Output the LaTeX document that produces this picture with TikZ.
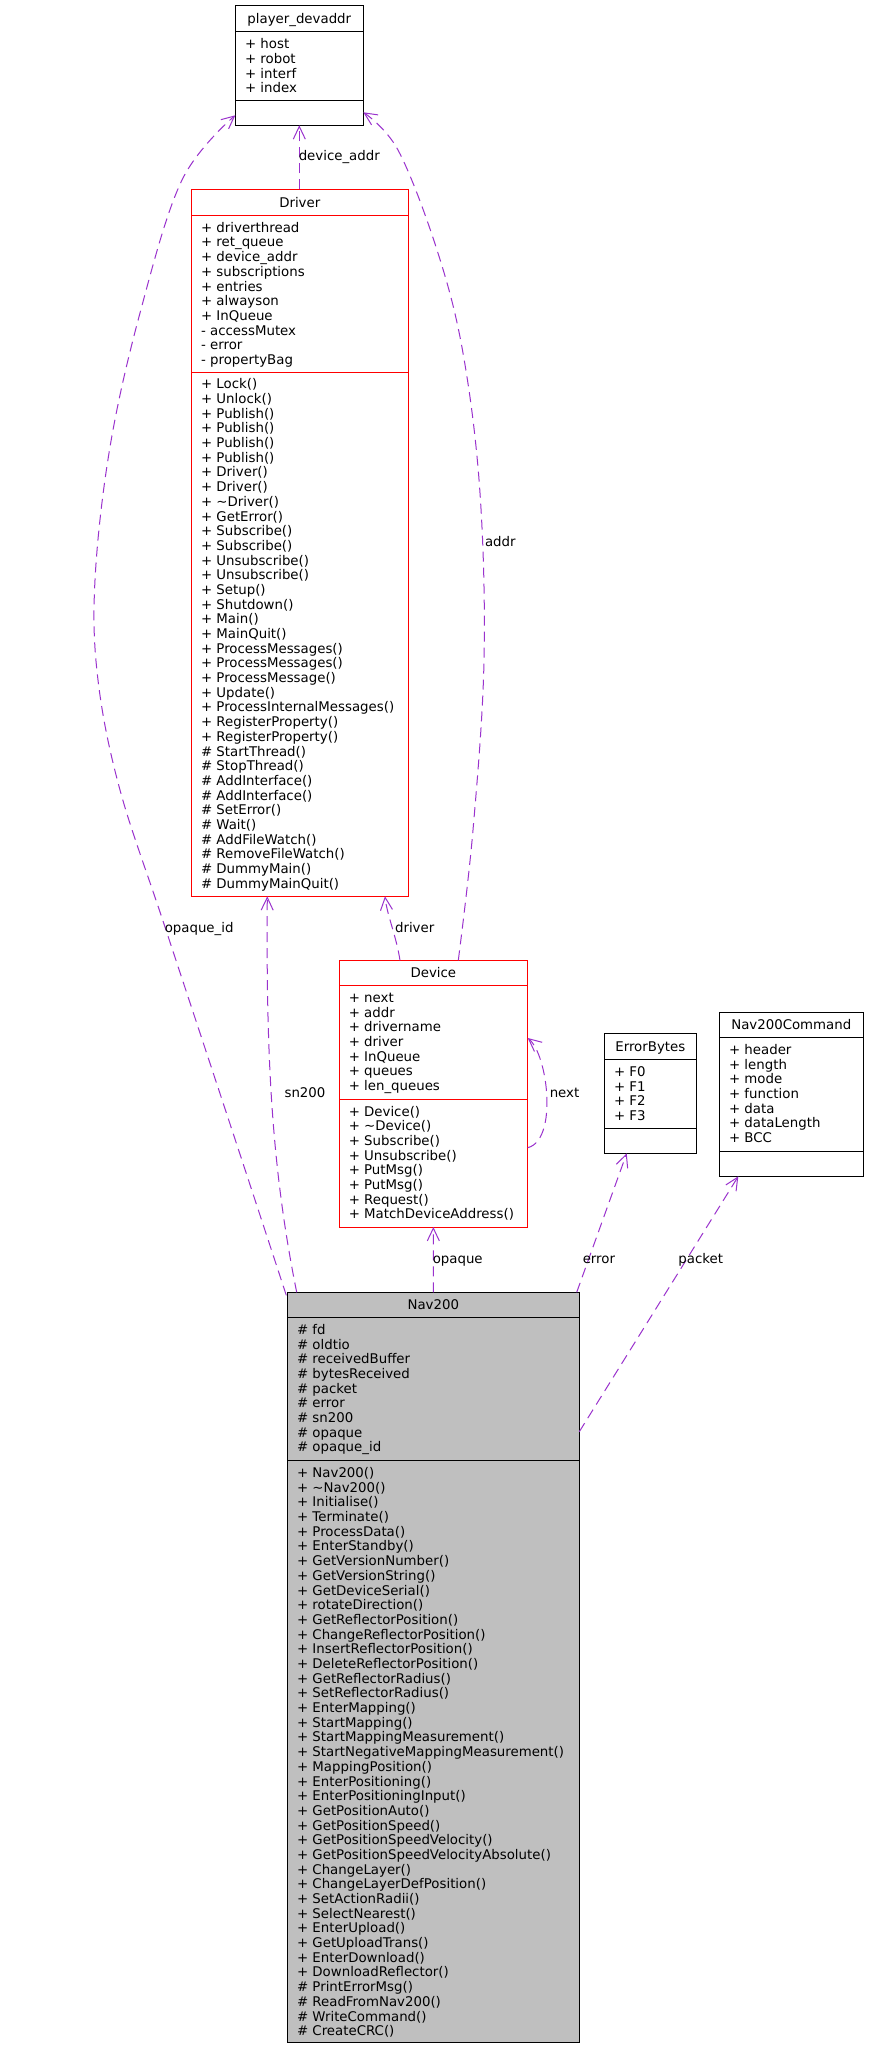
\documentclass[tikz,border=0pt]{standalone}
\usepackage{fontspec}
\setmainfont{DejaVu Sans}
\usetikzlibrary{arrows.meta,calc,fit}
\definecolor{depcol}{HTML}{9A32CD}
\definecolor{navfill}{HTML}{BFBFBF}
\tikzset{
  umlfont/.style={font=\fontsize{10pt}{12pt}\selectfont},
  txt/.style={umlfont, anchor=base west, inner sep=0pt},
  ttl/.style={umlfont, anchor=base, inner sep=0pt},
  lbl/.style={umlfont, anchor=base west, inner sep=0pt},
  cls/.style={inner sep=0pt, outer sep=0pt, line width=0.75pt, draw=black},
  redcls/.style={cls, draw=red},
  sepline/.style={line width=0.75pt},
  uses/.style={draw=depcol, line width=0.75pt, dash pattern=on 7.5pt off 4.5pt,
    -{Straight Barb[length=9.5pt,width=9pt]}},
}
\newcommand\classlines[4]{%
  \foreach \t [count=\i from 0] in {#4}
    \node[txt] (#1\i) at (#2, #3+\i*14.69) {\t};%
}
\begin{document}
\begin{tikzpicture}[x=0.75pt,y=-0.75pt]
\useasboundingbox (0,0) rectangle (868,2048);
\fill[white] (0,0) rectangle (868,2048);

% ---------------- player_devaddr
\node[cls, fit={(235.3,5.3) (363.3,125.3)}] (pdev) {};
\draw[sepline] (235.3,31.7) -- (363.3,31.7);
\draw[sepline] (235.3,100.3) -- (363.3,100.3);
\node[ttl] (pdev-t) at (299.3,23.3) {player\_devaddr};
\classlines{pdev-a}{244.8}{48.7}{+ host,+ robot,+ interf,+ index}

% ---------------- Driver
\node[redcls, fit={(191.3,189.3) (408.3,896.3)}] (drv) {};
\draw[sepline,red] (191.3,215.3) -- (408.3,215.3);
\draw[sepline,red] (191.3,372.3) -- (408.3,372.3);
\node[ttl] (drv-t) at (299.8,207.4) {Driver};
\classlines{drv-a}{200.8}{232.3}{+ driverthread,+ ret\_queue,+ device\_addr,+ subscriptions,+ entries,+ alwayson,+ InQueue,- accessMutex,- error,- propertyBag}
\classlines{drv-m}{200.8}{388.8}{+ Lock(),+ Unlock(),+ Publish(),+ Publish(),+ Publish(),+ Publish(),+ Driver(),+ Driver(),+ \textasciitilde Driver(),+ GetError(),+ Subscribe(),+ Subscribe(),+ Unsubscribe(),+ Unsubscribe(),+ Setup(),+ Shutdown(),+ Main(),+ MainQuit(),+ ProcessMessages(),+ ProcessMessages(),+ ProcessMessage(),+ Update(),+ ProcessInternalMessages(),+ RegisterProperty(),+ RegisterProperty(),\# StartThread(),\# StopThread(),\# AddInterface(),\# AddInterface(),\# SetError(),\# Wait(),\# AddFileWatch(),\# RemoveFileWatch(),\# DummyMain(),\# DummyMainQuit()}

% ---------------- Device
\node[redcls, fit={(339,960.3) (527.7,1227)}] (dev) {};
\draw[sepline,red] (339,985.3) -- (527.7,985.3);
\draw[sepline,red] (339,1099.3) -- (527.7,1099.3);
\node[ttl] (dev-t) at (433.35,977) {Device};
\classlines{dev-a}{348.5}{1002.3}{+ next,+ addr,+ drivername,+ driver,+ InQueue,+ queues,+ len\_queues}
\classlines{dev-m}{348.5}{1116.1}{+ Device(),+ \textasciitilde Device(),+ Subscribe(),+ Unsubscribe(),+ PutMsg(),+ PutMsg(),+ Request(),+ MatchDeviceAddress()}

% ---------------- ErrorBytes
\node[cls, fit={(604.3,1033.3) (696.3,1153.3)}] (eb) {};
\draw[sepline] (604.3,1059.7) -- (696.3,1059.7);
\draw[sepline] (604.3,1128.3) -- (696.3,1128.3);
\node[ttl] (eb-t) at (650.3,1051.4) {ErrorBytes};
\classlines{eb-a}{613.8}{1076.5}{+ F0,+ F1,+ F2,+ F3}

% ---------------- Nav200Command
\node[cls, fit={(719.3,1012.7) (863.3,1176.3)}] (nc) {};
\draw[sepline] (719.3,1037.3) -- (863.3,1037.3);
\draw[sepline] (719.3,1151.3) -- (863.3,1151.3);
\node[ttl] (nc-t) at (791.3,1029.2) {Nav200Command};
\classlines{nc-a}{728.8}{1054.5}{+ header,+ length,+ mode,+ function,+ data,+ dataLength,+ BCC}

% ---------------- Nav200
\node[cls, fill=navfill, fit={(287.3,1292.3) (579.3,2042.7)}] (nav) {};
\draw[sepline] (287.3,1317.3) -- (579.3,1317.3);
\draw[sepline] (287.3,1460.7) -- (579.3,1460.7);
\node[ttl] (nav-t) at (433.3,1309.2) {Nav200};
\classlines{nav-a}{296.8}{1334.3}{\# fd,\# oldtio,\# receivedBuffer,\# bytesReceived,\# packet,\# error,\# sn200,\# opaque,\# opaque\_id}
\classlines{nav-m}{296.8}{1477.5}{+ Nav200(),+ \textasciitilde Nav200(),+ Initialise(),+ Terminate(),+ ProcessData(),+ EnterStandby(),+ GetVersionNumber(),+ GetVersionString(),+ GetDeviceSerial(),+ rotateDirection(),+ GetReflectorPosition(),+ ChangeReflectorPosition(),+ InsertReflectorPosition(),+ DeleteReflectorPosition(),+ GetReflectorRadius(),+ SetReflectorRadius(),+ EnterMapping(),+ StartMapping(),+ StartMappingMeasurement(),+ StartNegativeMappingMeasurement(),+ MappingPosition(),+ EnterPositioning(),+ EnterPositioningInput(),+ GetPositionAuto(),+ GetPositionSpeed(),+ GetPositionSpeedVelocity(),+ GetPositionSpeedVelocityAbsolute(),+ ChangeLayer(),+ ChangeLayerDefPosition(),+ SetActionRadii(),+ SelectNearest(),+ EnterUpload(),+ GetUploadTrans(),+ EnterDownload(),+ DownloadReflector(),\# PrintErrorMsg(),\# ReadFromNav200(),\# WriteCommand(),\# CreateCRC()}

% ---------------- connectors
% device_addr
\draw[uses] ($(drv.north west)+(108,0)$) -- ($(pdev.south west)+(64,0)$);
\node[lbl] (l-devaddr) at (298.5,160.7) {device\_addr};

% opaque_id
\coordinate (oid-s) at ($(nav.north west)+(-1,3)$);
\coordinate (oid-e) at ($(pdev.south west)+(0,-10)$);
\draw[uses] plot[smooth, tension=0.6] coordinates {(oid-s) (233,1133) (165,927) (120,790) (98,680) (95,580) (110,447) (140,313) (182,180) (oid-e)};
\node[lbl] (l-oid) at (164.5,932) {opaque\_id};

% sn200
\draw[uses] ($(nav.north west)+(9.4,0)$) .. controls (272,1170) and (266,1060) .. ($(drv.south west)+(76,0)$);
\node[lbl] (l-sn) at (284.3,1097.3) {sn200};

% driver
\draw[uses] ($(dev.north west)+(61,0)$) .. controls (396,935) and (387,915) .. ($(drv.south west)+(193.7,0)$);
\node[lbl] (l-drv) at (394.8,932) {driver};

% addr
\coordinate (addr-s) at ($(dev.north west)+(119.3,0)$);
\coordinate (addr-e) at ($(pdev.south east)+(0,-13)$);
\draw[uses] plot[smooth, tension=0.6] coordinates {(addr-s) (473,830) (484,661) (480,493) (463,353) (437,250) (398,150) (addr-e)};
\node[lbl] (l-addr) at (484.8,546) {addr};

% next (self loop)
\draw[uses] ($(dev.north east)+(0,187.4)$) .. controls (558,1140) and (548,1055) .. ($(dev.north east)+(0,77.7)$);
\node[lbl] (l-next) at (549.5,1097.3) {next};

% opaque
\draw[uses] (nav.north) -- (dev.south);
\node[lbl] (l-opq) at (432.5,1263.3) {opaque};

% error
\draw[uses] ($(nav.north east)+(-2.6,0)$) -- ($(eb.south west)+(22.4,0)$);
\node[lbl] (l-err) at (582.5,1263) {error};

% packet
\draw[uses] ($(nav.north east)+(0,139.4)$) -- ($(nc.south west)+(19,0)$);
\node[lbl] (l-pkt) at (678.2,1263) {packet};
\end{tikzpicture}
\end{document}
